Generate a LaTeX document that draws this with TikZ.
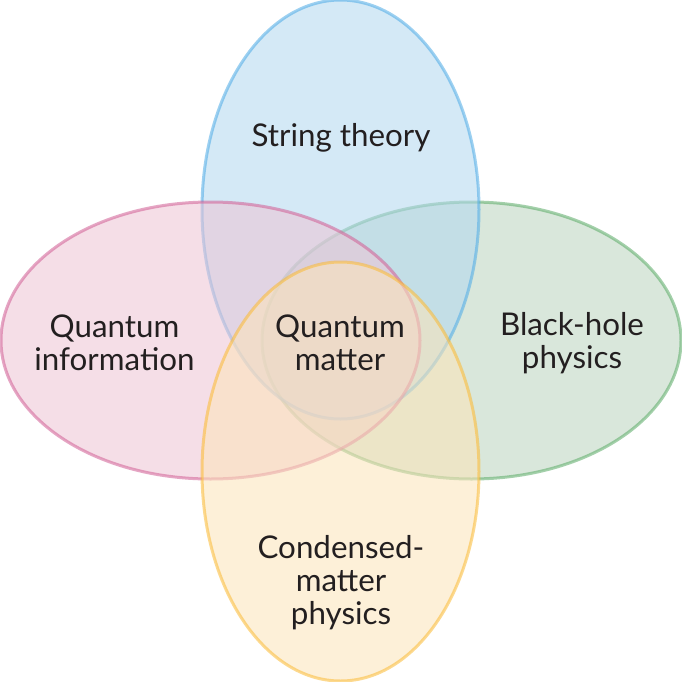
\documentclass[tikz,border=0pt]{standalone}
\usepackage{fontspec}
\setmainfont{Lato}
\definecolor{bluebase}{RGB}{177,215,240}
\definecolor{bluestroke}{RGB}{77,171,230}
\definecolor{pinkbase}{RGB}{237,195,213}
\definecolor{pinkstroke}{RGB}{209,93,148}
\definecolor{greenbase}{RGB}{186,213,191}
\definecolor{greenstroke}{RGB}{90,171,102}
\definecolor{yellowbase}{RGB}{253,228,184}
\definecolor{yellowstroke}{RGB}{251,186,51}
\definecolor{txt}{RGB}{35,31,32}
\tikzset{
  venn/.style={line width=2.25pt, fill opacity=0.55, draw opacity=0.55},
  lbl/.style={align=center, text=txt, font=\fontsize{23.5}{24.8}\selectfont, inner sep=0pt}
}
\begin{document}
\begin{tikzpicture}[x=0.75pt,y=-0.75pt]
\useasboundingbox (0,0) rectangle (682,682);
\fill[white] (0,0) rectangle (682,682);
\path[venn, fill=greenbase, draw=greenstroke] (471.5,340.5) ellipse [x radius=157.125pt, y radius=103.875pt];
\path[venn, fill=bluebase, draw=bluestroke] (340.5,209.5) ellipse [x radius=103.875pt, y radius=157.125pt];
\path[venn, fill=pinkbase, draw=pinkstroke] (210.5,340.5) ellipse [x radius=157.125pt, y radius=103.875pt];
\path[venn, fill=yellowbase, draw=yellowstroke] (340.5,471.5) ellipse [x radius=103.875pt, y radius=157.125pt];
\node[lbl] (string) at (341,137.5) {String theory};
\node[lbl] (qinfo) at (114.5,343) {Quantum\\information};
\node[lbl] (qmat) at (340,343) {Quantum\\matter};
\node[lbl] (bh) at (572,343) {Black-hole\\physics};
\node[lbl] (cmp) at (341,582.5) {Condensed-\\matter\\physics};
\end{tikzpicture}
\end{document}
